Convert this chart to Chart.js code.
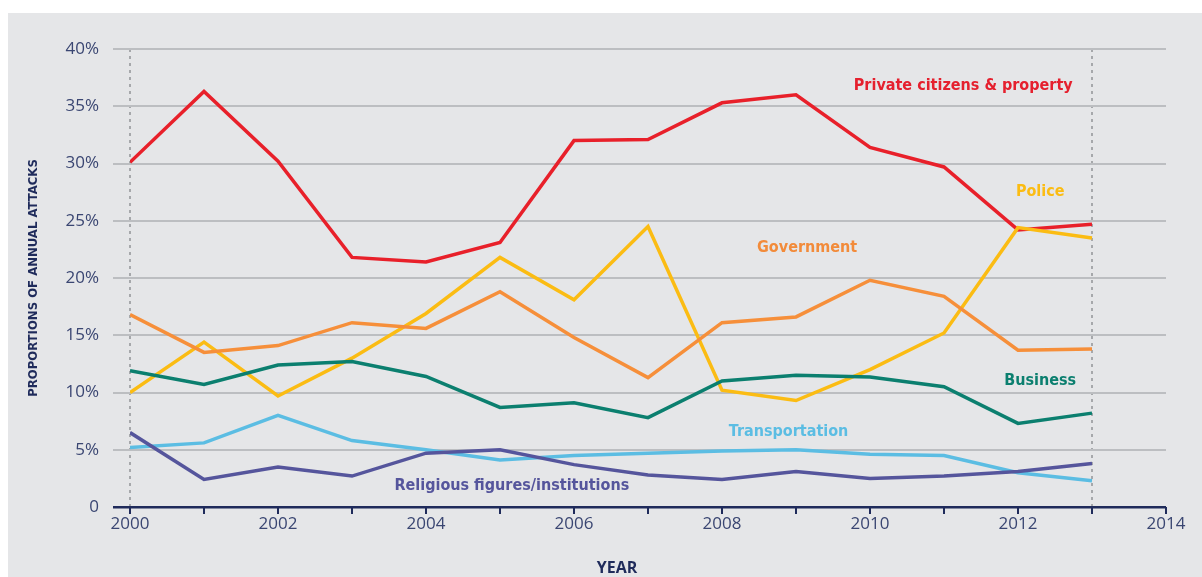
<!DOCTYPE html>
<html>
<head>
<meta charset="utf-8">
<script src="https://cdn.jsdelivr.net/npm/chart.js@4.4.0/dist/chart.umd.min.js"></script>
<style>
  html, body { margin: 0; padding: 0; background: #ffffff; }
  #panel { position: absolute; left: 8px; top: 13px; width: 1194px; height: 564px; background: #e5e6e8; }
  canvas { display: block; }
</style>
</head>
<body>
<div id="panel"><canvas id="chart" width="1194" height="564"></canvas></div>
<script>
// Data (share of annual attacks, %)
const years = [2000, 2001, 2002, 2003, 2004, 2005, 2006, 2007, 2008, 2009, 2010, 2011, 2012, 2013];
const privateCitizens = [30.1, 36.3, 30.2, 21.8, 21.4, 23.1, 32.0, 32.1, 35.3, 36.0, 31.4, 29.7, 24.2, 24.7];
const police = [10.0, 14.4, 9.7, 13.0, 16.9, 21.8, 18.1, 24.5, 10.2, 9.3, 12.0, 15.2, 24.4, 23.5];
const government = [16.8, 13.5, 14.1, 16.1, 15.6, 18.8, 14.8, 11.3, 16.1, 16.6, 19.8, 18.4, 13.7, 13.8];
const business = [11.9, 10.7, 12.4, 12.7, 11.4, 8.7, 9.1, 7.8, 11.0, 11.5, 11.35, 10.5, 7.3, 8.2];
const transportation = [5.2, 5.6, 8.0, 5.8, 5.0, 4.1, 4.5, 4.7, 4.9, 5.0, 4.6, 4.5, 3.0, 2.3];
const religious = [6.5, 2.4, 3.5, 2.7, 4.7, 5.0, 3.7, 2.8, 2.4, 3.1, 2.5, 2.7, 3.1, 3.8];

const yTicks = [0, 5, 10, 15, 20, 25, 30, 35, 40];

const NAVY = '#1f2b5b';
const TICK_TEXT = '#3a4672';
const GRID = '#bcbec1';
const LABEL_FONT = 'bold 16px "Liberation Sans Narrow", "DejaVu Sans Condensed", "Open Sans", sans-serif';

function toPoints(values) {
    return values.map((v, i) => ({ x: years[i], y: v }));
}

function series(label, values, color) {
    return {
        label: label,
        data: toPoints(values),
        borderColor: color,
        backgroundColor: color,
        borderWidth: 3.5,
        pointRadius: 0,
        tension: 0,
        fill: false
    };
}

// In-chart series labels, anchored in data coordinates
const seriesLabels = [
    { text: 'Private citizens & property', x: 2011.26, y: 36.8, color: '#e5202e' },
    { text: 'Police', x: 2012.3, y: 27.5, color: '#fbbc13' },
    { text: 'Government', x: 2009.15, y: 22.6, color: '#f28b3a' },
    { text: 'Business', x: 2012.3, y: 11.0, color: '#0b7f6f' },
    { text: 'Transportation', x: 2008.9, y: 6.55, color: '#5bbde3' },
    { text: 'Religious figures/institutions', x: 2005.16, y: 1.83, color: '#55559c' }
];

const labelPlugin = {
    id: 'seriesLabels',
    afterDatasetsDraw(chart) {
        const { ctx, scales: { x, y } } = chart;
        ctx.save();
        ctx.font = LABEL_FONT;
        ctx.textAlign = 'center';
        ctx.textBaseline = 'middle';
        seriesLabels.forEach(l => {
            ctx.fillStyle = l.color;
            ctx.fillText(l.text, x.getPixelForValue(l.x), y.getPixelForValue(l.y));
        });
        // x axis title
        ctx.fillStyle = NAVY;
        ctx.font = 'bold 16px "Open Sans", "DejaVu Sans", sans-serif';
        ctx.fillText('YEAR', 609, 555);
        ctx.restore();
    }
};

new Chart(document.getElementById('chart').getContext('2d'), {
    type: 'line',
    data: {
        datasets: [
            series('Religious figures/institutions', religious, '#55559c'),
            series('Transportation', transportation, '#5bbde3'),
            series('Business', business, '#0b7f6f'),
            series('Government', government, '#f68f3a'),
            series('Police', police, '#fbbc13'),
            series('Private citizens & property', privateCitizens, '#e8202a')
        ]
    },
    options: {
        responsive: false,
        animation: false,
        layout: { padding: { left: 0, top: 36, right: 36, bottom: 0 } },
        plugins: {
            legend: { display: false },
            tooltip: { enabled: false }
        },
        scales: {
            x: {
                type: 'linear',
                min: 2000,
                max: 2014,
                afterFit: s => { s.height = 70; },
                afterBuildTicks: s => { s.ticks = []; for (let v = 2000; v <= 2014; v++) s.ticks.push({ value: v }); },
                border: { display: false, dash: [3, 4] },
                grid: {
                    color: c => (c.tick && (c.tick.value === 2000 || c.tick.value === 2013)) ? '#a6a8ab' : 'rgba(0,0,0,0)',
                    lineWidth: 2,
                    drawTicks: false
                },
                ticks: {
                    color: TICK_TEXT,
                    font: { family: '"Open Sans", "DejaVu Sans", sans-serif', size: 17 },
                    padding: 7,
                    maxRotation: 0,
                    autoSkip: false,
                    callback: v => (v % 2 === 0 ? String(v) : '')
                }
            },
            y: {
                min: 0,
                max: 40,
                afterFit: s => { s.width = 122; },
                afterBuildTicks: s => { s.ticks = yTicks.map(v => ({ value: v })); },
                border: { display: false },
                grid: {
                    color: c => (c.tick && c.tick.value === 0) ? NAVY : GRID,
                    lineWidth: c => (c.tick && c.tick.value === 0) ? 2.5 : 2,
                    drawTicks: true,
                    tickLength: 17,
                    tickColor: c => (c.tick && c.tick.value === 0) ? NAVY : GRID
                },
                ticks: {
                    color: TICK_TEXT,
                    font: { family: '"Open Sans", "DejaVu Sans", sans-serif', size: 17 },
                    padding: 14,
                    callback: v => (v === 0 ? '0' : v + '%')
                },
                title: {
                    display: true,
                    text: 'PROPORTIONS OF ANNUAL ATTACKS',
                    color: NAVY,
                    font: { family: '"Liberation Sans Narrow", "DejaVu Sans Condensed", "Open Sans", sans-serif', size: 13, weight: 'bold' },
                    padding: { top: 18, bottom: 0 }
                }
            }
        }
    },
    plugins: [labelPlugin, {
        // small downward tick marks on the x axis at every year
        id: 'xTicks',
        afterDatasetsDraw(chart) {
            const { ctx, scales: { x, y } } = chart;
            const base = y.getPixelForValue(0);
            ctx.save();
            ctx.strokeStyle = NAVY;
            ctx.lineWidth = 2;
            x.ticks.forEach(t => {
                const px = Math.round(x.getPixelForValue(t.value));
                ctx.beginPath();
                ctx.moveTo(px, base);
                ctx.lineTo(px, base + 7);
                ctx.stroke();
            });
            ctx.restore();
        }
    }]
});
</script>
</body>
</html>
